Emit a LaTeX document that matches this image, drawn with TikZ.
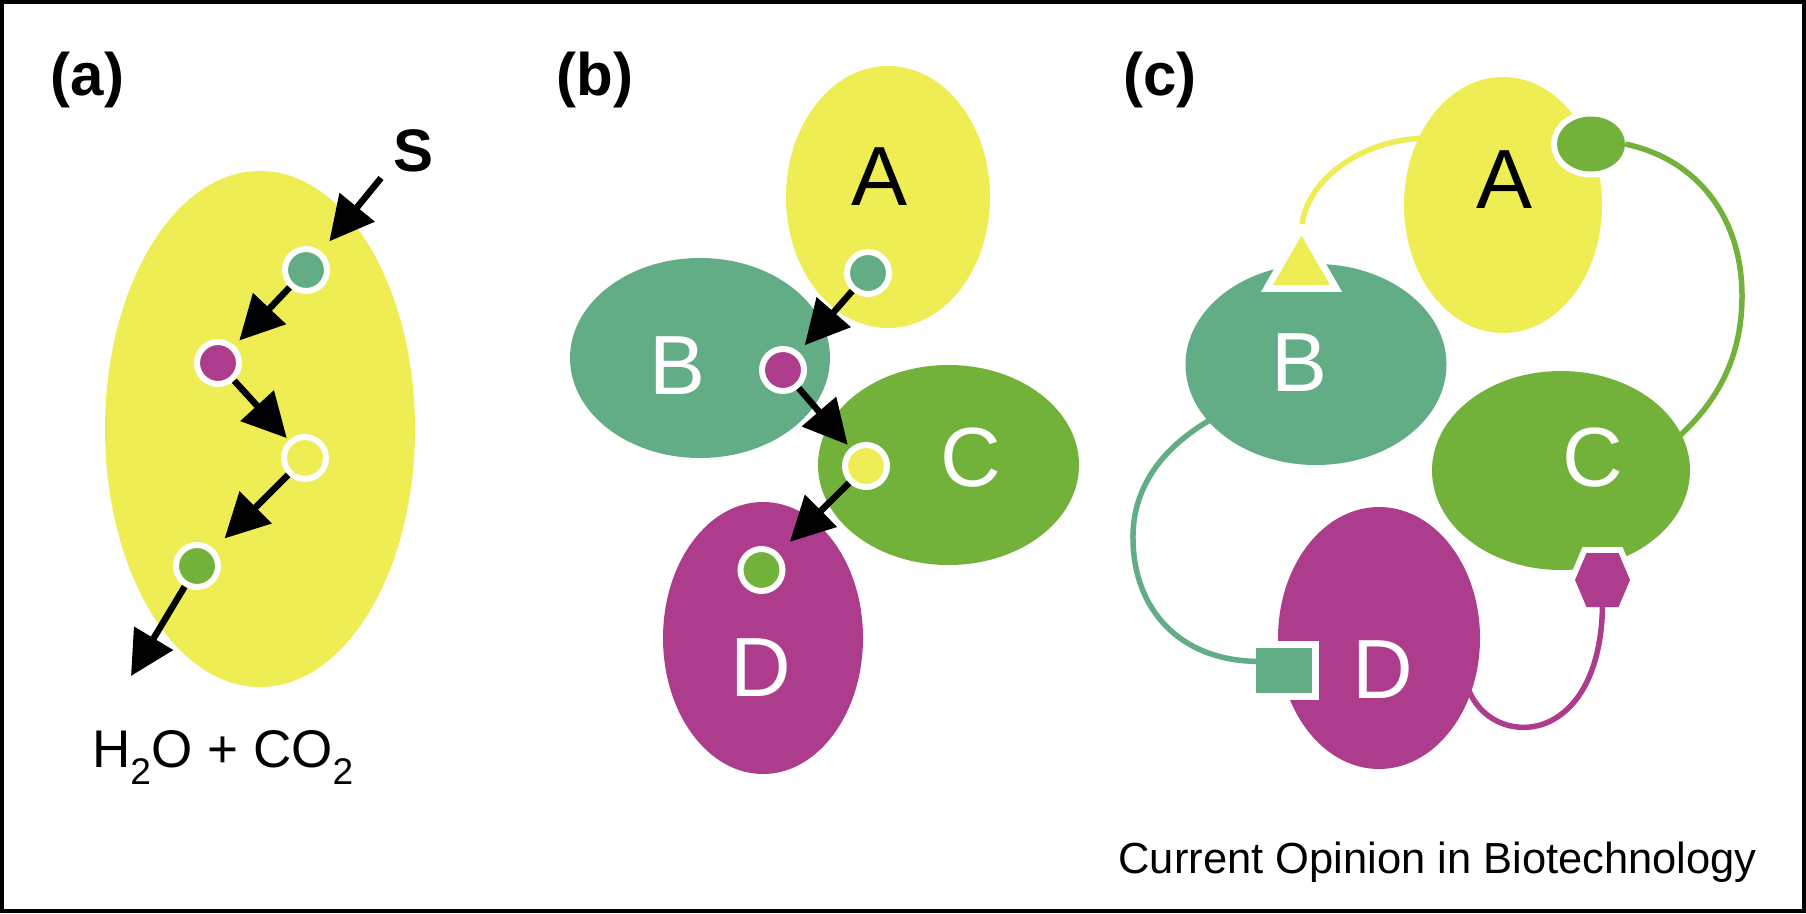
\documentclass[tikz,border=0pt]{standalone}
\usepackage{fontspec}
\setmainfont{Liberation Sans}
\usetikzlibrary{shapes.geometric,arrows.meta}

\definecolor{cyel}{RGB}{238,237,83}
\definecolor{cteal}{RGB}{98,173,133}
\definecolor{cgrn}{RGB}{114,178,58}
\definecolor{cmag}{RGB}{173,60,141}

\begin{document}
\begin{tikzpicture}[x=1pt,y=-1pt,
  blob/.style={ellipse, inner sep=0pt, outer sep=0pt, draw=none},
  dot/.style={circle, inner sep=0pt, minimum size=42pt, draw=white, line width=6pt, fill=#1},
  flow/.style={line width=6.5pt, -{Triangle[length=44pt,width=44pt]}},
  panel/.style={font=\fontsize{60}{60}\selectfont\bfseries, inner sep=0pt},
  big/.style={font=\fontsize{84}{84}\selectfont, inner sep=0pt},
  wire/.style={line width=5.5pt},
  halo/.style={preaction={draw=white, line width=#1}},
]
\useasboundingbox (0,0) rectangle (1806,913);
\fill[white] (0,0) rectangle (1806,913);
\draw[line width=4pt] (2,2) rectangle (1804,911);

% panel labels
\node[panel] (la) at (87.5,80) {(a)};
\node[panel] (lb) at (595,80) {(b)};
\node[panel] (lc) at (1160,80) {(c)};

% ---------- (a) one organism, whole pathway ----------
\node[blob, fill=cyel, minimum width=310pt, minimum height=516pt] (cell) at (260,429) {};
\node[panel] (sub) at (413.5,151) {S};
\node[dot=cteal] (a1) at (306,270) {};
\node[dot=cmag]  (a2) at (218,363) {};
\node[dot=cyel]  (a3) at (305,458) {};
\node[dot=cgrn]  (a4) at (197,566) {};
\coordinate (sIn) at (381,178);
\coordinate (aOut) at (131,676);
\node[anchor=base west, inner sep=0pt, font=\fontsize{53}{53}\selectfont] (prod) at (92,767) {H\textsubscript{2}O + CO\textsubscript{2}};
\draw[flow, shorten >=13pt] (sIn) -- (a1);
\draw[flow, shorten >=7pt] (a1) -- (a2);
\draw[flow, shorten >=3pt] (a2) -- (a3);
\draw[flow, shorten >=15pt] (a3) -- (a4);
\draw[flow] (a4) -- (aOut);

% ---------- (b) division of labour ----------
\node[blob, fill=cyel,  minimum width=204pt, minimum height=262pt] (bA) at (888,197) {};
\node[blob, fill=cteal, minimum width=260pt, minimum height=200pt] (bB) at (700,358) {};
\node[blob, fill=cgrn,  minimum width=261pt, minimum height=200pt] (bC) at (948.5,465) {};
\node[blob, fill=cmag,  minimum width=200pt, minimum height=272pt] (bD) at (763,638) {};
\node[big] (tA) at (880,177) {A};
\node[big, white] (tB) at (678,366) {B};
\node[big, white] (tC) at (970.5,458) {C};
\node[big, white] (tD) at (760.5,668) {D};
\node[dot=cteal] (b1) at (868,273) {};
\node[dot=cmag]  (b2) at (783,370) {};
\node[dot=cyel]  (b3) at (866,466) {};
\node[dot=cgrn]  (b4) at (761.5,570) {};
\draw[flow, shorten >=9pt] (b1) -- (b2);
\draw[flow, shorten >=4pt] (b2) -- (b3);
\draw[flow, shorten >=16pt] (b3) -- (b4);

% ---------- (c) cross-feeding community ----------
\node[blob, fill=cyel,  minimum width=198pt, minimum height=256pt] (cA) at (1503,205) {};
\node[blob, fill=cteal, minimum width=261pt, minimum height=201pt] (cB) at (1316,364.5) {};
\node[blob, fill=cgrn,  minimum width=258pt, minimum height=199pt] (cC) at (1561,470.5) {};
\node[blob, fill=cmag,  minimum width=202pt, minimum height=262pt] (cD) at (1379,638) {};
\node[big] (uA) at (1504,179.5) {A};
\node[big, white] (uB) at (1299,363) {B};
\node[big, white] (uC) at (1593,458) {C};
\node[big, white] (uD) at (1382.5,669.5) {D};

% exchanged metabolites, each cut out of its host cell by a white rim
\node[ellipse, inner sep=0pt, fill=cgrn, minimum width=68pt, minimum height=55pt, halo=12pt] (knob) at (1591,144) {};
\node[regular polygon, regular polygon sides=3, inner sep=0pt, fill=cyel, minimum size=65.8pt, halo=14pt] (tri) at (1301.5,268.5) {};
\node[rectangle, inner sep=0pt, fill=cteal, minimum width=56pt, minimum height=45pt, halo=14pt] (sq) at (1284,670.5) {};
\begin{scope}[shift={(1602.5,580)}]
  \path[fill=cmag, halo=12pt] (-16,-27) -- (16,-27) -- (27.5,0) -- (16,27) -- (-16,27) -- (-27.5,0) -- cycle;
\end{scope}
\coordinate (hexS) at (1602.5,606);

\coordinate (aJoin) at (1425,138);
\coordinate (triTop) at (1302,224);
\coordinate (cJoin) at (1675,440);
\coordinate (bJoin) at (1210,420);
\coordinate (dJoin) at (1468,688);

\draw[wire, cyel] (aJoin) .. controls (1360,140) and (1308,180) .. (triTop);
\draw[wire, cgrn] (knob.east) .. controls (1700,160) and (1742,220) .. (1742,296)
                              .. controls (1742,360) and (1715,405) .. (cJoin);
\draw[wire, cteal] (bJoin) .. controls (1150,455) and (1132,500) .. (1133,540)
                           .. controls (1134,610) and (1180,660) .. (sq.162);
\draw[wire, cmag] (hexS) .. controls (1600,750) and (1490,750) .. (dJoin);

\node[anchor=base east, inner sep=0pt, font=\fontsize{43.5}{43.5}\selectfont] (src) at (1757,873) {Current Opinion in Biotechnology};
\end{tikzpicture}
\end{document}
